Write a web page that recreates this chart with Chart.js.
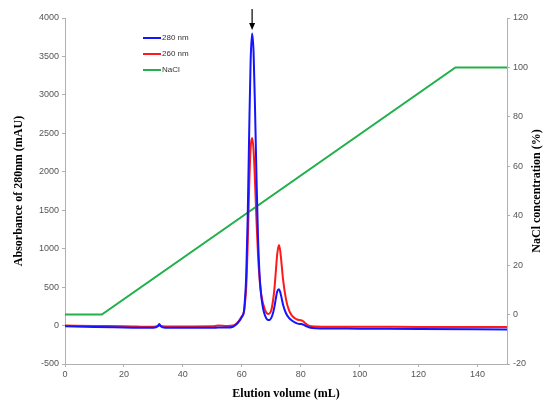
<!DOCTYPE html>
<html>
<head>
<meta charset="utf-8">
<script src="https://cdn.jsdelivr.net/npm/chart.js@4.4.1/dist/chart.umd.min.js"></script>
<style>
  html, body { margin: 0; padding: 0; background: #fff; }
  #wrap { width: 544px; height: 401px; }
</style>
</head>
<body>
<div id="wrap"><canvas id="chromChart"></canvas></div>
<script>
// elution volume (mL) for the absorbance traces
const volumes = [0, 10, 20, 30, 31.5, 32, 32.5, 34, 40, 50, 52, 55, 57, 58, 59, 60, 60.7, 61, 61.5, 62, 62.5, 63, 63.5, 64, 64.5, 65, 65.5, 66, 66.5, 67, 67.5, 68, 68.5, 69, 69.5, 70, 70.5, 71, 71.5, 72, 72.6, 73, 73.5, 74, 75, 76, 77, 78, 79, 80, 80.5, 81, 82, 83, 85, 90, 100, 120, 150];
const abs280 = [-10, -20, -25, -30, -10, 20, -10, -30, -30, -30, -25, -25, -15, 10, 50, 110, 180, 300, 650, 1400, 2500, 3450, 3800, 3550, 2800, 1900, 1150, 680, 420, 270, 175, 120, 85, 72, 75, 100, 150, 230, 340, 440, 472, 440, 360, 270, 160, 100, 65, 40, 25, 20, 18, 10, -10, -25, -35, -38, -40, -45, -50];
const abs260 = [0, -5, -8, -15, -5, 10, -5, -12, -12, -10, 0, -5, 0, 20, 60, 120, 170, 260, 500, 1050, 1800, 2320, 2440, 2280, 1850, 1350, 920, 620, 430, 320, 250, 190, 160, 150, 160, 200, 300, 450, 680, 920, 1048, 980, 800, 600, 340, 200, 130, 95, 75, 70, 64, 50, 15, -5, -12, -15, -15, -18, -20];
// NaCl gradient
const naclVolumes = [0, 12.5, 132.5, 150];
const naclPercent = [0, 0, 100, 100];
const seriesNames = ['280 nm', '260 nm', 'NaCl'];
const seriesColors = ['#1414ff', '#ff1a1a', '#22b04b'];
const arrowAt = 63.5;
const rightTitle = 'NaCl concentration (%)';

function toPoints(xs, ys) {
    return xs.map((x, i) => ({ x: x, y: ys[i] }));
}

const tickFont = { family: 'Liberation Sans', size: 9 };
const titleFont = { family: 'Liberation Serif', size: 12, weight: 'bold' };
const axisGray = '#b0b0b0';

const extras = {
    id: 'extras',
    afterDraw(chart) {
        const ctx = chart.ctx;
        ctx.save();
        // legend
        ctx.font = '8px "Liberation Sans"';
        ctx.textBaseline = 'middle';
        seriesNames.forEach((name, i) => {
            const y = 38 + i * 16;
            ctx.strokeStyle = seriesColors[i];
            ctx.lineWidth = 2;
            ctx.beginPath();
            ctx.moveTo(143, y);
            ctx.lineTo(161, y);
            ctx.stroke();
            ctx.fillStyle = '#333';
            ctx.fillText(name, 162, y);
        });
        // arrow on the main peak
        const ax = chart.scales.x.getPixelForValue(arrowAt);
        ctx.strokeStyle = '#000';
        ctx.fillStyle = '#000';
        ctx.lineWidth = 1.2;
        ctx.beginPath();
        ctx.moveTo(ax, 9);
        ctx.lineTo(ax, 25);
        ctx.stroke();
        ctx.beginPath();
        ctx.moveTo(ax - 3, 23);
        ctx.lineTo(ax + 3, 23);
        ctx.lineTo(ax, 30);
        ctx.closePath();
        ctx.fill();
        // right axis title, reading bottom to top
        const area = chart.chartArea;
        ctx.translate(537, (area.top + area.bottom) / 2);
        ctx.rotate(-Math.PI / 2);
        ctx.font = 'bold 12px "Liberation Serif"';
        ctx.textAlign = 'center';
        ctx.fillText(rightTitle, 0, 0);
        ctx.restore();
    }
};

const ctx = document.getElementById('chromChart');
new Chart(ctx, {
    type: 'line',
    data: {
        datasets: [
            {
                label: seriesNames[0],
                data: toPoints(volumes, abs280),
                borderColor: seriesColors[0],
                borderWidth: 2,
                pointRadius: 0,
                cubicInterpolationMode: 'monotone',
                yAxisID: 'y'
            },
            {
                label: seriesNames[1],
                data: toPoints(volumes, abs260),
                borderColor: seriesColors[1],
                borderWidth: 2,
                pointRadius: 0,
                cubicInterpolationMode: 'monotone',
                yAxisID: 'y'
            },
            {
                label: seriesNames[2],
                data: toPoints(naclVolumes, naclPercent),
                borderColor: seriesColors[2],
                borderWidth: 2,
                pointRadius: 0,
                tension: 0,
                yAxisID: 'y2'
            }
        ]
    },
    options: {
        responsive: true,
        maintainAspectRatio: false,
        animation: false,
        layout: { padding: { top: 18, left: 0, right: 0, bottom: 0 } },
        plugins: {
            legend: { display: false },
            tooltip: { enabled: false }
        },
        scales: {
            x: {
                type: 'linear',
                min: 0,
                max: 150,
                afterFit: (s) => { s.height = 37; },
                ticks: { stepSize: 20, includeBounds: false, color: '#555', font: tickFont, padding: 2, callback: (v) => String(v) },
                grid: { drawOnChartArea: false, drawTicks: true, tickLength: 3, color: axisGray },
                border: { color: axisGray },
                title: { display: true, text: 'Elution volume (mL)', color: '#000', font: titleFont, padding: { top: 6, bottom: 0 } }
            },
            y: {
                position: 'left',
                min: -500,
                max: 4000,
                afterFit: (s) => { s.width = 65; },
                ticks: { stepSize: 500, color: '#555', font: tickFont, padding: 3, callback: (v) => String(v) },
                grid: { drawOnChartArea: false, drawTicks: true, tickLength: 3, color: axisGray },
                border: { color: axisGray },
                title: { display: true, text: 'Absorbance of 280nm (mAU)', color: '#000', font: titleFont, padding: { top: 12, bottom: 0 } }
            },
            y2: {
                position: 'right',
                min: -20,
                max: 120,
                afterFit: (s) => { s.width = 37; },
                ticks: { stepSize: 20, color: '#555', font: tickFont, padding: 3, callback: (v) => String(v) },
                grid: { drawOnChartArea: false, drawTicks: true, tickLength: 3, color: axisGray },
                border: { color: axisGray },
                title: { display: false }
            }
        }
    },
    plugins: [extras]
});
</script>
</body>
</html>
